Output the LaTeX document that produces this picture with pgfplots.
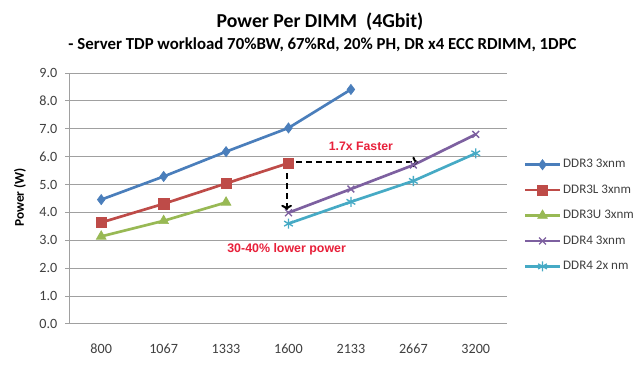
\documentclass[border=0pt]{standalone}
\usepackage{pgfplots}
\pgfplotsset{compat=1.18}
\usetikzlibrary{arrows.meta}
\usepackage{fontspec}
\setmainfont{Carlito}
\newfontfamily\arialf{Liberation Sans}
\definecolor{cA}{HTML}{4A7EBB}
\definecolor{cB}{HTML}{BE4B48}
\definecolor{cC}{HTML}{98B954}
\definecolor{cD}{HTML}{7D60A0}
\definecolor{cE}{HTML}{46AAC5}
\definecolor{gridc}{HTML}{A0A0A0}
\definecolor{txt}{HTML}{404040}
\definecolor{annred}{HTML}{E8203A}
\begin{document}
\begin{tikzpicture}
\path[use as bounding box,fill=white] (0pt,0pt) rectangle (480pt,278.25pt);
\node[font=\bfseries\fontsize{14.8}{17}\selectfont] at (240pt,261.75pt) {Power Per DIMM\ \ (4Gbit)};
\node[font=\bfseries\fontsize{12.6}{15}\selectfont] at (241.9pt,244.5pt) {- Server TDP workload 70\%BW, 67\%Rd, 20\% PH, DR x4 ECC RDIMM, 1DPC};
\begin{axis}[
  at={(52.5pt,35.25pt)}, anchor=south west,
  scale only axis, width=327.75pt, height=188.25pt,
  xmin=-0.5, xmax=6.5, ymin=0, ymax=9,
  xtick={0,...,6},
  xticklabels={800,1067,1333,1600,2133,2667,3200},
  ytick={0,1,...,9},
  yticklabel style={xshift=-2.5pt, /pgf/number format/.cd,fixed,fixed zerofill,precision=1},
  /pgf/number format/assume math mode=true,
  ticklabel style={font=\fontsize{10.6}{12}\selectfont, text=txt},
  axis x line*=bottom, axis y line*=left,
  axis line style={gridc, line width=0.75pt},
  x axis line style={-}, y axis line style={-},
  major tick length=3.5pt,
  tick style={gridc, line width=0.75pt},
  xtick style={draw=none},
  tick align=outside,
  ymajorgrids, grid style={gridc, line width=0.75pt},
  xticklabel style={yshift=-8pt},
  ylabel={Power (W)},
  every axis y label/.style={at={(axis description cs:-0.1144,0.505)}, rotate=90, anchor=center},
  ylabel style={font=\bfseries\fontsize{10}{12}\selectfont},
  legend style={at={(1.038,0.432)}, anchor=west, draw=none, fill=none, inner sep=0pt,
    font=\fontsize{9.8}{11}\selectfont, text=txt, row sep=7.2pt,
    /tikz/every even column/.append style={column sep=0pt},
    nodes={inner xsep=1.5pt}},
  legend image code/.code={\draw[mark repeat=2,mark phase=2] plot coordinates {(0pt,0pt) (13pt,0pt) (26pt,0pt)};},
  legend cell align=left,
  every axis plot/.append style={line width=2pt},
]
\addplot[cA, mark=diamond*, mark size=3.8pt, mark options={solid,line width=0.5pt}] coordinates {(0,4.46) (1,5.29) (2,6.18) (3,7.03) (4,8.41)};
\addlegendentry{DDR3 3xnm}
\addplot[cB, mark=square*, mark size=3.9pt, mark options={solid,line width=0.5pt}] coordinates {(0,3.64) (1,4.31) (2,5.04) (3,5.77)};
\addlegendentry{DDR3L 3xnm}
\addplot[cC, mark=triangle*, mark size=4.2pt, mark options={solid,line width=0.5pt}] coordinates {(0,3.14) (1,3.70) (2,4.36)};
\addlegendentry{DDR3U 3xnm}
\addplot[cD, mark=x, mark size=3.6pt, mark options={solid,line width=1pt}] coordinates {(3,3.99) (4,4.84) (5,5.70) (6,6.80)};
\addlegendentry{DDR4 3xnm}
\addplot[cE, mark=asterisk, mark size=3.8pt, mark options={solid,line width=1pt}] coordinates {(3,3.60) (4,4.38) (5,5.13) (6,6.12)};
\addlegendentry{DDR4 2x nm}
\draw[black, dash pattern=on 4.5pt off 3pt, line width=1.5pt, -{To[length=4pt,width=8pt]}] (axis cs:3.12,5.81) -- (axis cs:5.07,5.81);
\draw[black, dash pattern=on 4.5pt off 3pt, line width=1.5pt, -{To[length=4pt,width=8pt]}] (axis cs:2.97,5.4) -- (axis cs:2.97,4.08);
\node[text=annred, font=\arialf\bfseries\fontsize{9.2}{11}\selectfont] at (axis cs:4.16,6.36) {1.7x Faster};
\node[text=annred, font=\arialf\bfseries\fontsize{9.3}{11}\selectfont] at (axis cs:2.97,2.68) {30-40\% lower power};
\end{axis}
\end{tikzpicture}
\end{document}
